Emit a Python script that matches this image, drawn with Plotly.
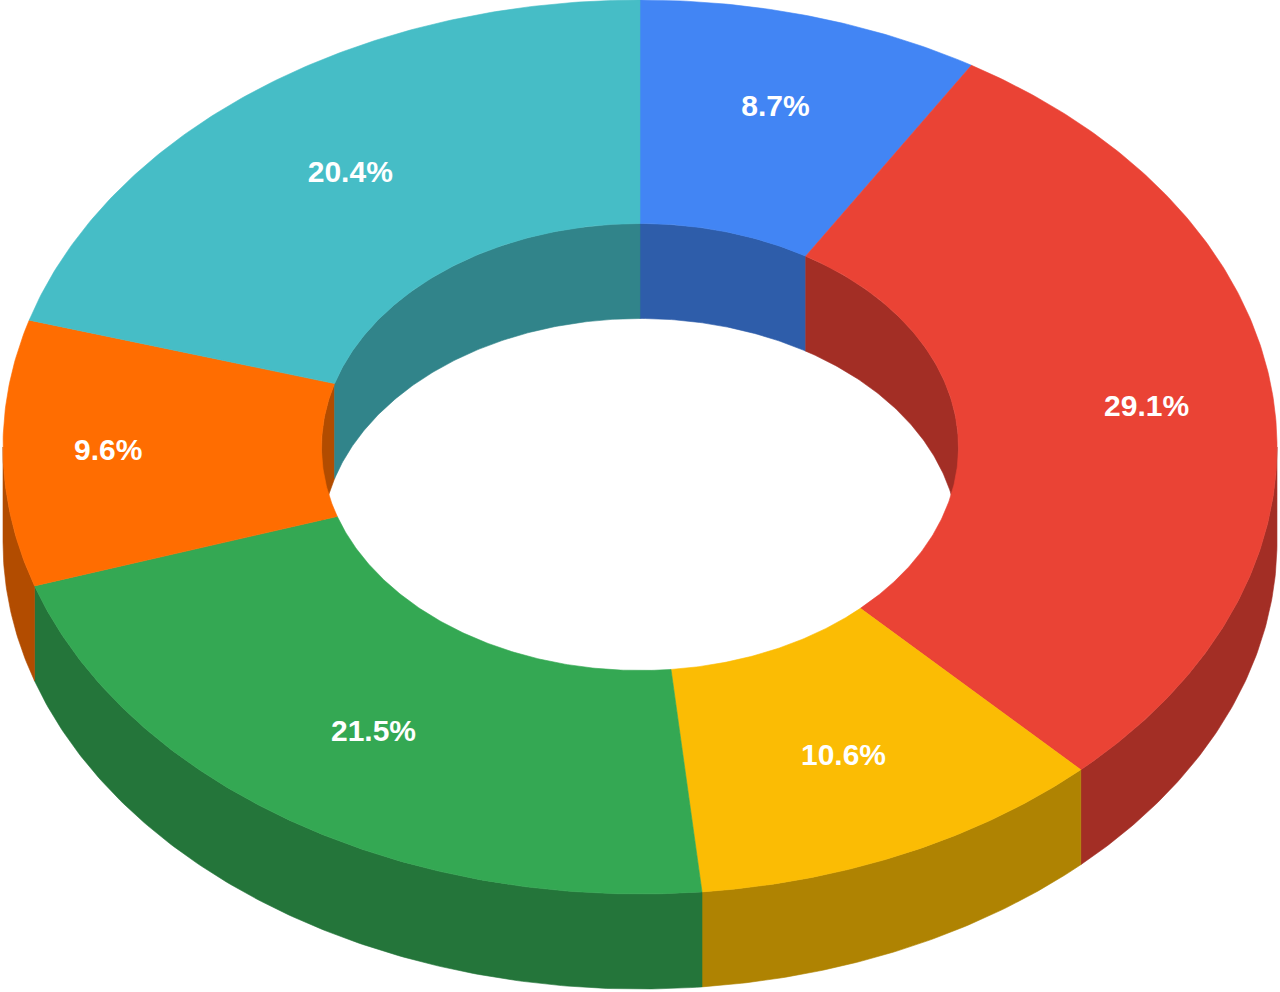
import plotly.graph_objects as go
import numpy as np

# slice data, clockwise from 12 o'clock
labels = ["Blue", "Red", "Yellow", "Green", "Orange", "Teal"]
shares = [8.7, 29.1, 10.6, 21.5, 9.6, 20.4]
colors = ["#4285F4", "#EA4335", "#FBBC04", "#34A853", "#FF6D01", "#46BDC6"]

W, H = 1280, 992
CX, CY = 640, 447
RX, RY = 637, 447
HOLE = 0.5
DEPTH = 95
# how far out along each slice's middle the percentage sits (fraction of outer radius)
label_radius = [0.787, 0.80, 0.765, 0.765, 0.835, 0.76]


def darker(hexcol, k=0.7):
    h = hexcol.lstrip("#")
    r, g, b = (int(h[i:i + 2], 16) for i in (0, 2, 4))
    return "rgb(%d,%d,%d)" % (r * k, g * k, b * k)


def arc(t0, t1, f, dy=0.0):
    t = np.radians(np.linspace(t0, t1, max(int(abs(t1 - t0) * 2), 2)))
    return CX + RX * f * np.sin(t), CY - RY * f * np.cos(t) + dy


def wall(t0, t1, f):
    x1, y1 = arc(t0, t1, f)
    x2, y2 = arc(t1, t0, f, DEPTH)
    return np.concatenate([x1, x2, x1[:1]]), np.concatenate([y1, y2, y1[:1]])


def poly(fig, x, y, col):
    fig.add_trace(go.Scatter(
        x=x, y=y, mode="lines", fill="toself", fillcolor=col,
        line=dict(color=col, width=0.6), hoverinfo="skip", showlegend=False,
    ))


total = sum(shares)
ends = np.cumsum(shares) / total * 360
starts = np.concatenate([[0], ends[:-1]])

fig = go.Figure()

# side walls first: outer front (90..270) and inner back (270..450)
for a0, a1, c in zip(starts, ends, colors):
    lo, hi = max(a0, 90), min(a1, 270)
    if hi > lo:
        x, y = wall(lo, hi, 1.0)
        poly(fig, x, y, darker(c))
    for off in (0, 360):
        lo, hi = max(a0 + off, 270), min(a1 + off, 450)
        if hi > lo:
            x, y = wall(lo, hi, HOLE)
            poly(fig, x, y, darker(c))

# top faces
for a0, a1, c in zip(starts, ends, colors):
    xo, yo = arc(a0, a1, 1.0)
    xi, yi = arc(a1, a0, HOLE)
    poly(fig, np.concatenate([xo, xi, xo[:1]]), np.concatenate([yo, yi, yo[:1]]), c)

# percentage labels
mids = np.radians((starts + ends) / 2)
lr = np.array(label_radius)
fig.add_trace(go.Scatter(
    x=CX + RX * lr * np.sin(mids),
    y=CY - RY * lr * np.cos(mids),
    mode="text",
    text=["%.1f%%" % s for s in shares],
    textfont=dict(family="Liberation Sans, Arial", size=30, color="white", weight="bold"),
    hoverinfo="skip", showlegend=False,
))

fig.update_layout(
    width=W, height=H,
    margin=dict(l=0, r=0, t=0, b=0),
    paper_bgcolor="white", plot_bgcolor="white",
    xaxis=dict(range=[0, W], visible=False, fixedrange=True),
    yaxis=dict(range=[H, 0], visible=False, fixedrange=True),
)

# drop the default 8px body margin so the chart sits flush in the window
fig.write_html("out.html", config={"displayModeBar": False},
               post_script="document.body.style.margin='0';")
